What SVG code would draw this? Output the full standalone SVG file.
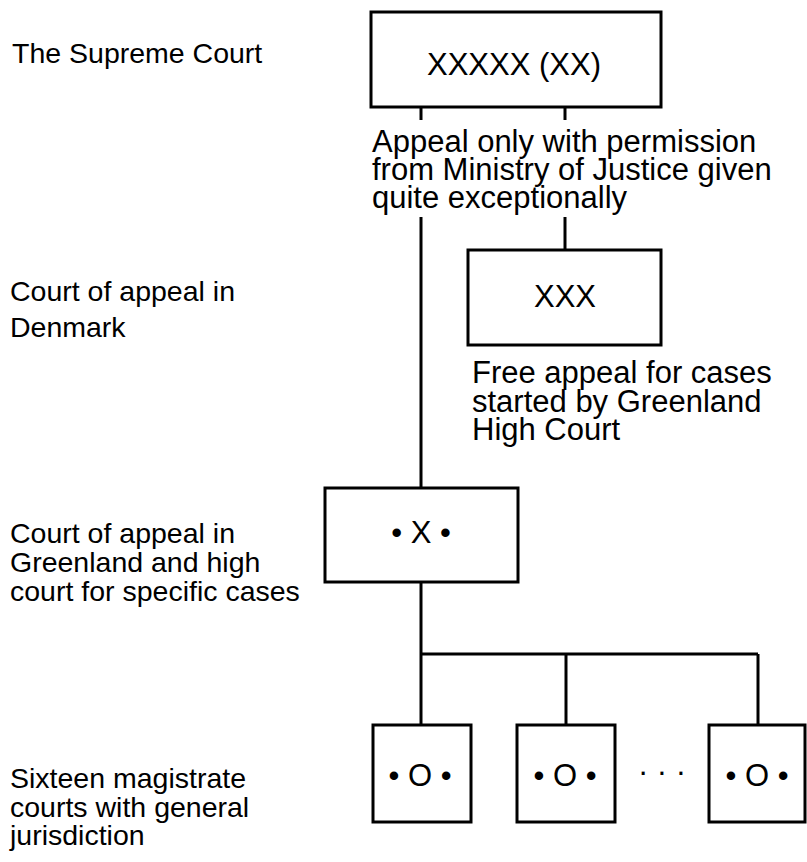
<svg xmlns="http://www.w3.org/2000/svg" width="807" height="862" viewBox="0 0 807 862">
  <style>
    .box { fill: #ffffff; stroke: #000000; stroke-width: 3; }
    .wire { fill: none; stroke: #000000; stroke-width: 3; }
    .lbl { font-family: "Liberation Sans", Arial, Helvetica, sans-serif; font-size: 28.5px; fill: #000000; }
    .txt { font-family: "Liberation Sans", Arial, Helvetica, sans-serif; font-size: 31px; fill: #000000; }
    .mid { text-anchor: middle; }
  </style>
  <rect width="807" height="862" fill="#ffffff"/>

  <!-- level labels -->
  <g id="labels">
    <text class="lbl" x="12" y="63">The Supreme Court</text>
    <text class="lbl" x="10" y="301">Court of appeal in</text>
    <text class="lbl" x="10" y="337">Denmark</text>
    <text class="lbl" x="10" y="543">Court of appeal in</text>
    <text class="lbl" x="10" y="572">Greenland and high</text>
    <text class="lbl" x="10" y="601">court for specific cases</text>
    <text class="lbl" x="10" y="788">Sixteen magistrate</text>
    <text class="lbl" x="10" y="817">courts with general</text>
    <text class="lbl" x="10" y="845">jurisdiction</text>
  </g>

  <!-- connectors -->
  <g id="connectors">
    <path class="wire" d="M421 107 V120 M565 107 V120"/>
    <path class="wire" d="M421 217 V488"/>
    <path class="wire" d="M565 217 V250"/>
    <path class="wire" d="M421 582 V725"/>
    <path class="wire" d="M421 654 H758"/>
    <path class="wire" d="M566 654 V725"/>
    <path class="wire" d="M758 654 V725"/>
  </g>

  <g id="supreme-court">
    <rect class="box" x="371" y="12" width="290" height="95"/>
    <text class="txt mid" x="514" y="75">XXXXX (XX)</text>
  </g>

  <g id="supreme-note">
    <text class="txt" x="372" y="152">Appeal only with permission</text>
    <text class="txt" x="372" y="180">from Ministry of Justice given</text>
    <text class="txt" x="372" y="208">quite exceptionally</text>
  </g>

  <g id="appeal-denmark">
    <rect class="box" x="468" y="250" width="193" height="95"/>
    <text class="txt mid" x="565" y="307">XXX</text>
  </g>

  <g id="appeal-note">
    <text class="txt" x="472" y="383">Free appeal for cases</text>
    <text class="txt" x="472" y="412">started by Greenland</text>
    <text class="txt" x="472" y="440">High Court</text>
  </g>

  <g id="appeal-greenland">
    <rect class="box" x="325" y="488" width="193" height="94"/>
    <text class="txt mid" x="421" y="543">• X •</text>
  </g>

  <g id="magistrate-1">
    <rect class="box" x="373" y="725" width="98" height="97"/>
    <text class="txt mid" x="420" y="786">• O •</text>
  </g>

  <g id="magistrate-2">
    <rect class="box" x="517" y="725" width="98" height="97"/>
    <text class="txt mid" x="565" y="786">• O •</text>
  </g>

  <g id="ellipsis">
    <text class="txt mid" x="662" y="782">· · ·</text>
  </g>

  <g id="magistrate-16">
    <rect class="box" x="709" y="725" width="96" height="97"/>
    <text class="txt mid" x="757" y="786">• O •</text>
  </g>
</svg>
